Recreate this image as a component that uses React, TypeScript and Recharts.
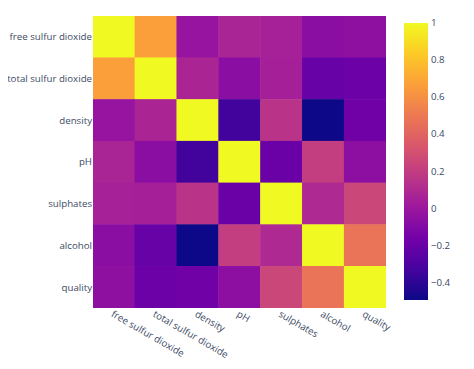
import React from 'react';
import { ScatterChart, Scatter, XAxis, YAxis, BarChart, Bar } from 'recharts';

const LABELS = ['free sulfur dioxide', 'total sulfur dioxide', 'density', 'pH', 'sulphates', 'alcohol', 'quality'];

const ROW_FREE_SO2 = [1, 0.668, -0.022, 0.070, 0.052, -0.069, -0.051];
const ROW_TOTAL_SO2 = [0.668, 1, 0.071, -0.066, 0.043, -0.206, -0.185];
const ROW_DENSITY = [-0.022, 0.071, 1, -0.342, 0.149, -0.496, -0.175];
const ROW_PH = [0.070, -0.066, -0.342, 1, -0.197, 0.206, -0.058];
const ROW_SULPHATES = [0.052, 0.043, 0.149, -0.197, 1, 0.094, 0.251];
const ROW_ALCOHOL = [-0.069, -0.206, -0.496, 0.206, 0.094, 1, 0.476];
const ROW_QUALITY = [-0.051, -0.185, -0.175, -0.058, 0.251, 0.476, 1];

const ROWS = [ROW_FREE_SO2, ROW_TOTAL_SO2, ROW_DENSITY, ROW_PH, ROW_SULPHATES, ROW_ALCOHOL, ROW_QUALITY];

const CB_TICKS = [-0.4, -0.2, 0, 0.2, 0.4, 0.6, 0.8, 1];
const CB_MIN = -0.496;
const CB_MAX = 1;

const PLASMA = ['#0d0887', '#46039f', '#7201a8', '#9c179e', '#bd3786', '#d8576b', '#ed7953', '#fb9f3a', '#fdca26', '#f0f921'];

const hex = (h: string) => [parseInt(h.slice(1, 3), 16), parseInt(h.slice(3, 5), 16), parseInt(h.slice(5, 7), 16)];
function plasma(v: number) {
  let t = (v - CB_MIN) / (CB_MAX - CB_MIN);
  t = Math.max(0, Math.min(1, t));
  const p = t * (PLASMA.length - 1);
  const i = Math.min(PLASMA.length - 2, Math.floor(p));
  const f = p - i;
  const a = hex(PLASMA[i]);
  const b = hex(PLASMA[i + 1]);
  const c = a.map((x, k) => Math.round(x + (b[k] - x) * f));
  return `rgb(${c[0]},${c[1]},${c[2]})`;
}

const cells = ROWS.flatMap((row, i) => row.map((v, j) => ({ x: j, y: i, v })));

const W = 466;
const H = 361;
const MARGIN = { top: 8, right: 88, bottom: 0, left: 0 };
const Y_W = 85;
const X_H = 61;
const CELL_W = (W - MARGIN.left - MARGIN.right - Y_W) / 7;
const CELL_H = (H - MARGIN.top - MARGIN.bottom - X_H) / 7;

const FONT = '"Open Sans", sans-serif';
const TXT = '#3b4a63';
const FS = 9.7;

const CellShape = (props: any) => {
  const { cx, cy, payload } = props;
  return (
    <rect
      x={cx - CELL_W / 2 - 0.25}
      y={cy - CELL_H / 2 - 0.25}
      width={CELL_W + 0.5}
      height={CELL_H + 0.5}
      fill={plasma(payload.v)}
    />
  );
};

const XTick = (props: any) => {
  const { x, y, payload } = props;
  return (
    <text
      x={x}
      y={y}
      dy="0.71em"
      transform={`rotate(30 ${x} ${y})`}
      textAnchor="start"
      fontSize={FS}
      fill={TXT}
      fontFamily={FONT}
    >
      {LABELS[payload.value]}
    </text>
  );
};

const YTick = (props: any) => {
  const { x, y, payload } = props;
  return (
    <text x={x} y={y} dy="0.35em" textAnchor="end" fontSize={FS} fill={TXT} fontFamily={FONT}>
      {LABELS[payload.value]}
    </text>
  );
};

const CbTick = (props: any) => {
  const { x, y, payload } = props;
  const v = payload.value as number;
  const s = v < 0 ? '\u2212' + Math.abs(v).toString() : v.toString();
  return (
    <text x={x} y={y} dy="0.35em" textAnchor="start" fontSize={FS} fill={TXT} fontFamily={FONT}>
      {s}
    </text>
  );
};

export default function App() {
  return (
    <div style={{ position: 'relative', width: W, height: H, fontFamily: FONT }}>
      <ScatterChart width={W} height={H} margin={MARGIN} style={{ overflow: 'visible' }}>
        <XAxis
          type="number"
          dataKey="x"
          domain={[-0.5, 6.5]}
          ticks={[0, 1, 2, 3, 4, 5, 6]}
          allowDataOverflow
          height={X_H}
          tickLine={false}
          axisLine={false}
          tickSize={0}
          tickMargin={2}
          tick={<XTick />}
          interval={0}
        />
        <YAxis
          type="number"
          dataKey="y"
          domain={[-0.5, 6.5]}
          ticks={[0, 1, 2, 3, 4, 5, 6]}
          allowDataOverflow
          reversed
          width={Y_W}
          tickLine={false}
          axisLine={false}
          tickSize={0}
          tickMargin={1}
          interval={0}
          tick={<YTick />}
        />
        <Scatter data={cells} shape={<CellShape />} isAnimationActive={false} />
      </ScatterChart>
      <div style={{ position: 'absolute', left: 396, top: 0 }}>
        <BarChart
          width={70}
          height={H}
          data={[{ name: 'cb', range: [CB_MIN, CB_MAX] }]}
          margin={{ top: 15, right: 6, bottom: 69, left: 0 }}
          barCategoryGap={0}
        >
          <defs>
            <linearGradient id="plasmaGrad" x1="0" y1="1" x2="0" y2="0">
              {PLASMA.map((c, i) => (
                <stop key={i} offset={`${(i / (PLASMA.length - 1)) * 100}%`} stopColor={c} />
              ))}
            </linearGradient>
          </defs>
          <XAxis dataKey="name" hide />
          <YAxis
            orientation="right"
            type="number"
            domain={[CB_MIN, CB_MAX]}
            allowDataOverflow
            ticks={CB_TICKS}
            interval={0}
            width={40}
            tickLine={false}
            axisLine={false}
            tickSize={0}
            tickMargin={3}
            tick={<CbTick />}
          />
          <Bar dataKey="range" fill="url(#plasmaGrad)" isAnimationActive={false} />
        </BarChart>
      </div>
    </div>
  );
}
